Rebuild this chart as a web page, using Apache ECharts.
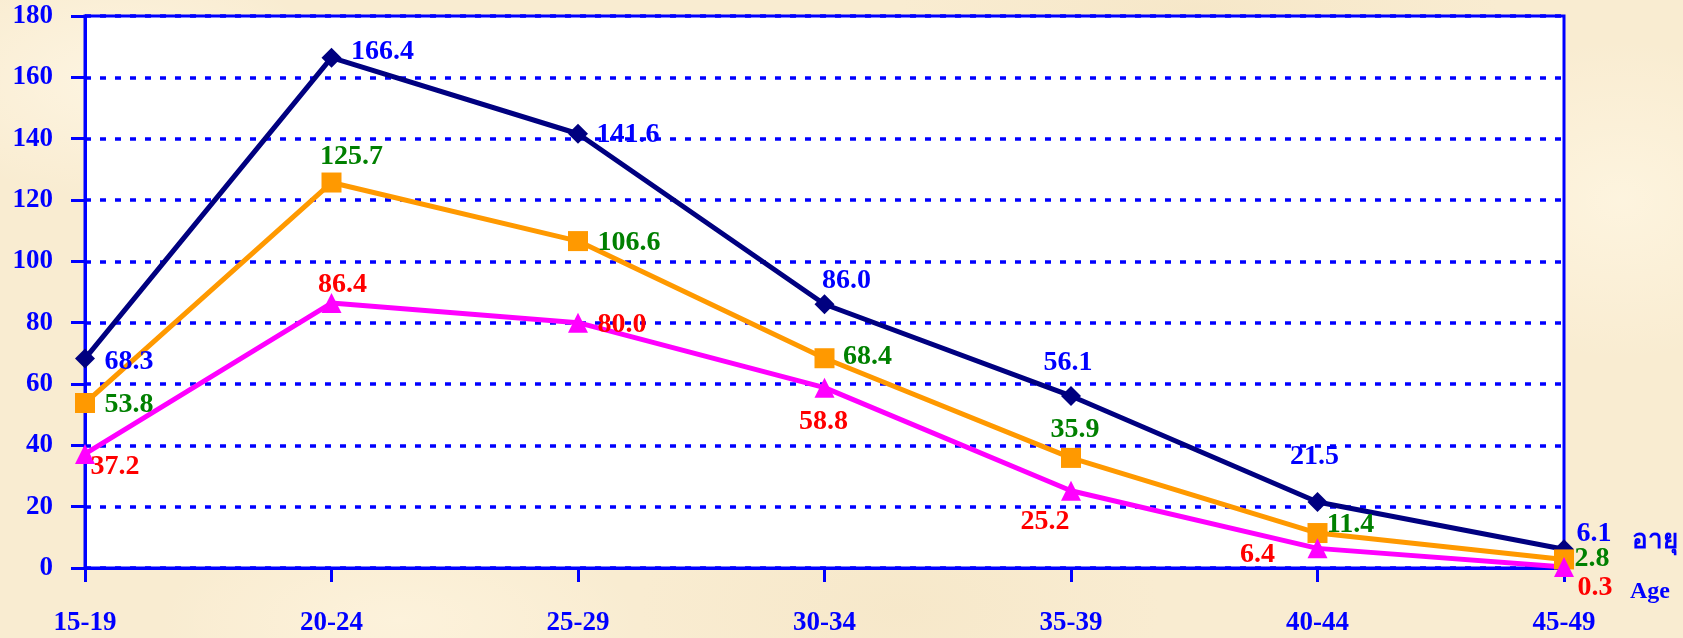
<!DOCTYPE html>
<html>
<head>
<meta charset="utf-8">
<script src="https://cdn.jsdelivr.net/npm/echarts@6/dist/echarts.min.js"></script>
<style>
html, body { margin: 0; padding: 0; width: 1683px; height: 638px; overflow: hidden; }
body {
  background-color: #f9ecd1;
  background-image:
    radial-gradient(ellipse 220px 120px at 120px 80px, rgba(255,248,232,0.7), rgba(255,248,232,0)),
    radial-gradient(ellipse 260px 140px at 900px 610px, rgba(244,228,195,0.5), rgba(244,228,195,0)),
    radial-gradient(ellipse 200px 160px at 1620px 200px, rgba(255,247,228,0.7), rgba(255,247,228,0)),
    radial-gradient(ellipse 240px 100px at 400px 620px, rgba(255,246,226,0.6), rgba(255,246,226,0)),
    radial-gradient(ellipse 300px 60px at 1200px 8px, rgba(244,228,195,0.6), rgba(244,228,195,0));
}
#chart { width: 1683px; height: 638px; }
</style>
</head>
<body>
<div id="chart"></div>
<script>
// ---- data ----
const categories = ['15-19', '20-24', '25-29', '30-34', '35-39', '40-44', '45-49'];
const seriesA = [68.3, 166.4, 141.6, 86.0, 56.1, 21.5, 6.1];
const seriesB = [53.8, 125.7, 106.6, 68.4, 35.9, 11.4, 2.8];
const seriesC = [37.2, 86.4, 80.0, 58.8, 25.2, 6.4, 0.3];
const yMin = 0, yMax = 180, yStep = 20;
const axisNameTh = 'อายุ';
const axisNameEn = 'Age';

// ---- label placement (style, offsets from the point in px) ----
const offA = [[44, 3], [51, -6], [50, 1], [22, -24], [-3, -33], [-3, -45], [30, -16]];
const offB = [[44, 2], [20, -26], [51, 2], [43, -1], [4, -28], [33, -8], [28, -1]];
const offC = [[30, 13], [11, -18], [44, 2], [-1, 34], [-26, 31], [-60, 6], [31, 21]];

const FONT = '"Liberation Serif", "Times New Roman", serif';
const BLUE = '#0000ff';

function mkData(vals, offs) {
  return vals.map((v, i) => ({ value: v, label: { offset: offs[i] } }));
}
function mkSeries(name, vals, offs, lineColor, symbol, labelColor) {
  return {
    name: name,
    type: 'line',
    data: mkData(vals, offs),
    symbol: symbol,
    symbolSize: 20,
    lineStyle: { color: lineColor, width: 5 },
    itemStyle: { color: lineColor },
    label: {
      show: true,
      position: 'inside',
      color: labelColor,
      fontFamily: FONT,
      fontWeight: 'bold',
      fontSize: 28,
      formatter: p => Number(p.value).toFixed(1)
    },
    emphasis: { disabled: true },
    animation: false
  };
}

const chart = echarts.init(document.getElementById('chart'), null, { renderer: 'canvas' });
chart.setOption({
  backgroundColor: 'transparent',
  animation: false,
  grid: {
    left: 85, right: 119, top: 16, bottom: 70,
    show: true, backgroundColor: '#ffffff',
    borderColor: BLUE, borderWidth: 3
  },
  xAxis: {
    type: 'category',
    data: categories,
    boundaryGap: false,
    axisLine: { show: true, lineStyle: { color: BLUE, width: 3 } },
    axisTick: { show: true, inside: false, length: 14, lineStyle: { color: BLUE, width: 3 } },
    axisLabel: { color: BLUE, fontFamily: FONT, fontWeight: 'bold', fontSize: 27, margin: 42 },
    splitLine: { show: false }
  },
  yAxis: {
    type: 'value',
    min: yMin, max: yMax, interval: yStep,
    axisLine: { show: true, lineStyle: { color: BLUE, width: 3 } },
    axisTick: { show: true, inside: false, length: 14, lineStyle: { color: BLUE, width: 3 } },
    axisLabel: { color: BLUE, fontFamily: FONT, fontWeight: 'bold', fontSize: 27, margin: 32 },
    splitLine: { show: true, lineStyle: { color: BLUE, width: 3.5, type: [6, 9] } }
  },
  graphic: [
    { type: 'text', left: 1632, top: 528, style: { text: axisNameTh, fill: BLUE, font: 'bold 26px "Liberation Serif", "Noto Sans", serif' } },
    { type: 'text', left: 1630, top: 580, style: { text: axisNameEn, fill: BLUE, font: 'bold 24px "Liberation Serif", serif' } }
  ],
  series: [
    mkSeries('A', seriesA, offA, '#000080', 'diamond', '#0000ff'),
    mkSeries('B', seriesB, offB, '#ff9900', 'rect', '#008000'),
    mkSeries('C', seriesC, offC, '#ff00ff', 'triangle', '#ff0000')
  ]
});
</script>
</body>
</html>
